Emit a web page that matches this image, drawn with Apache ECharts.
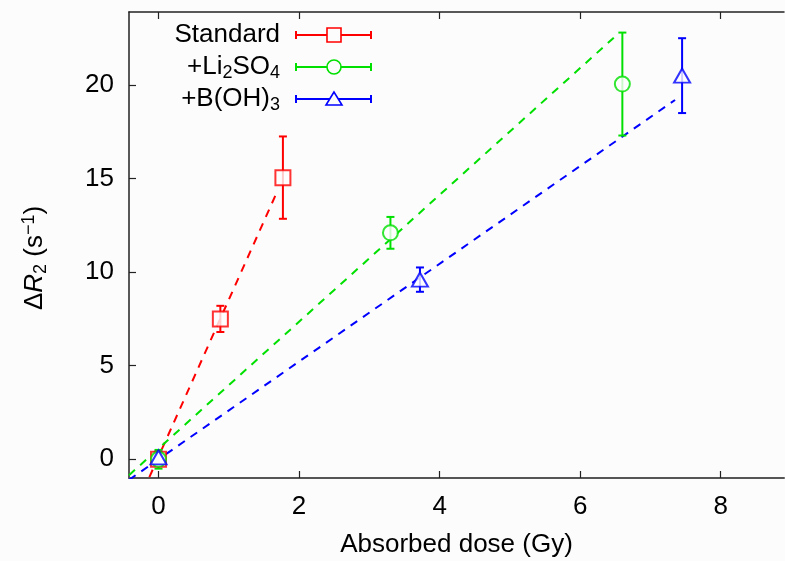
<!DOCTYPE html>
<html>
<head>
<meta charset="utf-8">
<script src="https://cdn.jsdelivr.net/npm/echarts@6/dist/echarts.min.js"></script>
<style>
  html, body { margin: 0; padding: 0; background: #fcfcfc; }
  #chart { width: 785px; height: 561px; }
</style>
</head>
<body>
<div id="chart"></div>
<script>
// 数据 (Gy, s^-1)
const doseStd = [0, 0.88, 1.77];
const r2Std = [0, 7.5, 15.05];
const errStd = [0.35, 0.7, 2.2];

const doseLi = [0, 3.3, 6.6];
const r2Li = [0, 12.1, 20.05];
const errLi = [0.5, 0.85, 2.75];

const doseB = [0, 3.72, 7.45];
const r2B = [0.1, 9.6, 20.5];
const errB = [0.3, 0.65, 2.0];

// 拟合直线端点
const fitStd = [[-0.13, -0.95], [1.7, 14.4]];
const fitLi = [[-0.42, -0.85], [6.5, 22.6]];
const fitB = [[-0.42, -1.1], [7.35, 19.2]];

const xTicks = [0, 2, 4, 6, 8];
const yTicks = [0, 5, 10, 15, 20];

const color = ['#ff0000', '#00e000', '#0000ff'];
const font = 'Liberation Sans, Arial, sans-serif';
const fontSize = 26;

const points = (xs, ys) => xs.map((x, i) => [x, ys[i]]);

// 误差棒
const errorBar = (name, xs, ys, errs, c) => ({
  type: 'custom',
  name,
  data: xs.map((x, i) => [x, ys[i] - errs[i], ys[i] + errs[i]]),
  encode: { x: 0, y: [1, 2] },
  z: 3,
  renderItem: (params, api) => {
    const lo = api.coord([api.value(0), api.value(1)]);
    const hi = api.coord([api.value(0), api.value(2)]);
    const w = 4;
    const style = { stroke: c, lineWidth: 2 };
    return {
      type: 'group',
      children: [
        { type: 'line', shape: { x1: lo[0], y1: lo[1], x2: hi[0], y2: hi[1] }, style },
        { type: 'line', shape: { x1: lo[0] - w, y1: lo[1], x2: lo[0] + w, y2: lo[1] }, style },
        { type: 'line', shape: { x1: hi[0] - w, y1: hi[1], x2: hi[0] + w, y2: hi[1] }, style },
      ],
    };
  },
});

const marker = (name, xs, ys, symbol, size, c) => ({
  type: 'scatter',
  name,
  data: points(xs, ys),
  symbol,
  symbolSize: size,
  z: 4,
  itemStyle: { color: c, borderColor: c, borderWidth: 1.6 },
});

const fitLine = (data, c) => ({
  type: 'line',
  data,
  symbol: 'none',
  z: 2,
  lineStyle: { color: c, width: 2, type: [8, 7] },
});

const richText = {
  t: { fontFamily: font, fontSize, color: '#000', lineHeight: 30 },
  s: { fontFamily: font, fontSize: 18, color: '#000', lineHeight: 14, verticalAlign: 'bottom' },
  p: { fontFamily: font, fontSize: 18, color: '#000', lineHeight: 14, verticalAlign: 'top' },
  i: { fontFamily: font, fontSize, color: '#000', lineHeight: 30, fontStyle: 'italic' },
};

// 图例 (手动绘制)
const legendRows = [
  { text: '{t|Standard}', y: 35, c: color[0], m: 'rect' },
  { text: '{t|+Li}{s|2}{t|SO}{s|4}', y: 67, c: color[1], m: 'circle' },
  { text: '{t|+B(OH)}{s|3}', y: 99, c: color[2], m: 'triangle' },
];
const legendGraphic = [];
legendRows.forEach((r) => {
  const st = { stroke: r.c, lineWidth: 2, fill: null };
  legendGraphic.push(
    { type: 'text', x: 280, y: r.y, style: { text: r.text, rich: richText, align: 'right', verticalAlign: 'middle' } },
    { type: 'line', shape: { x1: 296, y1: r.y, x2: 371, y2: r.y }, style: st },
    { type: 'line', shape: { x1: 296, y1: r.y - 4, x2: 296, y2: r.y + 4 }, style: st },
    { type: 'line', shape: { x1: 371, y1: r.y - 4, x2: 371, y2: r.y + 4 }, style: st }
  );
  const ms = { stroke: r.c, lineWidth: 1.6, fill: '#fcfcfc' };
  if (r.m === 'rect') {
    legendGraphic.push({ type: 'rect', shape: { x: 327, y: r.y - 7, width: 14, height: 14 }, style: ms });
  } else if (r.m === 'circle') {
    legendGraphic.push({ type: 'circle', shape: { cx: 334, cy: r.y, r: 7 }, style: ms });
  } else {
    legendGraphic.push({ type: 'polygon', shape: { points: [[334, r.y - 7], [326, r.y + 6], [342, r.y + 6]] }, style: ms });
  }
});

// 纵轴标题
legendGraphic.push({
  type: 'text',
  x: 35,
  y: 258,
  rotation: Math.PI / 2,
  style: {
    text: '{t|Δ}{i|R}{s|2}{t| (s}{p|−1}{t|)}',
    rich: richText,
    align: 'center',
    verticalAlign: 'middle',
  },
});

const axisCommon = {
  type: 'value',
  splitLine: { show: false },
  axisLine: { show: true, onZero: false, lineStyle: { color: '#222', width: 1.5 } },
  axisTick: { inside: true, length: 7, lineStyle: { color: '#222', width: 1.2 } },
};

const myChart = echarts.init(document.getElementById('chart'));
myChart.setOption({
  backgroundColor: '#fcfcfc',
  animation: false,
  grid: { left: 129, top: 12, width: 655, height: 466, outerBoundsMode: 'none' },
  graphic: legendGraphic,
  xAxis: [
    {
      ...axisCommon,
      min: -0.42,
      max: 8.9,
      position: 'bottom',
      axisLine: { ...axisCommon.axisLine, lineStyle: { color: '#555', width: 2 } },
      axisTick: { ...axisCommon.axisTick, customValues: xTicks },
      axisLabel: { customValues: xTicks, margin: 16, color: '#000', fontFamily: font, fontSize },
      name: 'Absorbed dose (Gy)',
      nameLocation: 'middle',
      nameGap: 54,
      nameTextStyle: { color: '#000', fontFamily: font, fontSize },
    },
    {
      ...axisCommon,
      min: -0.42,
      max: 8.9,
      position: 'top',
      axisTick: { ...axisCommon.axisTick, customValues: xTicks },
      axisLabel: { show: false },
    },
  ],
  yAxis: {
    ...axisCommon,
    min: -1,
    max: 23.9,
    axisTick: { ...axisCommon.axisTick, customValues: yTicks },
    axisLabel: { customValues: yTicks, margin: 15, color: '#000', fontFamily: font, fontSize },
  },
  series: [
    fitLine(fitStd, color[0]),
    fitLine(fitLi, color[1]),
    fitLine(fitB, color[2]),
    errorBar('Standard', doseStd, r2Std, errStd, color[0]),
    errorBar('+Li2SO4', doseLi, r2Li, errLi, color[1]),
    errorBar('+B(OH)3', doseB, r2B, errB, color[2]),
    marker('Standard', doseStd, r2Std, 'emptyRect', 15, color[0]),
    marker('+Li2SO4', doseLi, r2Li, 'emptyCircle', 15, color[1]),
    marker('+B(OH)3', doseB, r2B, 'emptyTriangle', [16, 14], color[2]),
  ],
});
</script>
</body>
</html>
